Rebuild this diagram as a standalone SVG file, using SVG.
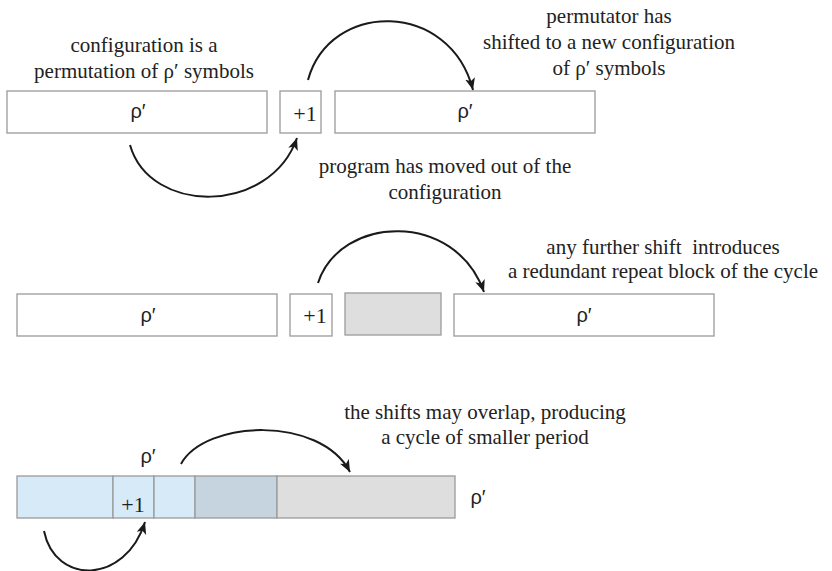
<svg xmlns="http://www.w3.org/2000/svg" width="832" height="571" viewBox="0 0 832 571">
<style>
.box{fill:#fff;stroke:#9a9a9a;stroke-width:1.3}
.lb{fill:#d6eaf8;stroke:#9a9a9a;stroke-width:1.3}
.db{fill:#c6d4df;stroke:#9a9a9a;stroke-width:1.3}
.gr{fill:#dedede;stroke:#9a9a9a;stroke-width:1.3}
.t{font-size:21px;fill:#222;text-anchor:middle}
.r{font-size:20px;fill:#222;text-anchor:middle}
.p{font-size:22px;fill:#222;text-anchor:middle}
.c{fill:none;stroke:#1a1a1a;stroke-width:2;marker-end:url(#ah)}
</style>
<defs>
<marker id="ah" markerUnits="userSpaceOnUse" markerWidth="13" markerHeight="11" refX="12" refY="5" orient="auto">
<path d="M0,0 L12,5 L0,10 L3,5 z" fill="#1a1a1a"/>
</marker>
</defs>
<rect width="832" height="571" fill="#fff"/>
<g font-family="Liberation Serif, Times New Roman, Times, Noto Serif, DejaVu Serif, serif">
<g id="row1">
<g id="r1-box1"><rect class="box" x="7" y="91" width="260" height="42"/><text class="r" font-family="Liberation Sans, Arial, sans-serif" x="138" y="118">ρ′</text></g>
<g id="r1-plus"><rect class="box" x="280" y="91" width="41" height="42"/><text class="p" x="305" y="121">+1</text></g>
<g id="r1-box2"><rect class="box" x="335" y="91" width="260" height="42"/><text class="r" font-family="Liberation Sans, Arial, sans-serif" x="465" y="118">ρ′</text></g>
<g id="r1-label1"><text class="t" x="144" y="52">configuration is a</text><text class="t" x="144" y="78">permutation of ρ′ symbols</text></g>
<g id="r1-label2"><text class="t" x="609" y="23">permutator has</text><text class="t" x="609" y="49">shifted to a new configuration</text><text class="t" x="609" y="75">of ρ′ symbols</text></g>
<g id="r1-label3"><text class="t" x="445" y="173">program has moved out of the</text><text class="t" x="445" y="199">configuration</text></g>
</g>
<g id="row2">
<g id="r2-box1"><rect class="box" x="17" y="294" width="260" height="42"/><text class="r" font-family="Liberation Sans, Arial, sans-serif" x="148" y="322">ρ′</text></g>
<g id="r2-plus"><rect class="box" x="290" y="294" width="42" height="42"/><text class="p" x="315" y="323">+1</text></g>
<g id="r2-grey"><rect class="gr" x="345" y="293" width="96" height="42"/></g>
<g id="r2-box2"><rect class="box" x="454" y="294" width="260" height="42"/><text class="r" font-family="Liberation Sans, Arial, sans-serif" x="584" y="322">ρ′</text></g>
<g id="r2-label"><text class="t" x="663" y="254" xml:space="preserve">any further shift  introduces</text><text class="t" x="663" y="278">a redundant repeat block of the cycle</text></g>
</g>
<g id="row3">
<g id="r3-a"><rect class="lb" x="17" y="476" width="96" height="42"/></g>
<g id="r3-plus"><rect class="lb" x="113" y="476" width="41" height="42"/><text class="p" x="133" y="512">+1</text></g>
<g id="r3-b"><rect class="lb" x="154" y="476" width="41" height="42"/></g>
<g id="r3-c"><rect class="db" x="195" y="476" width="82" height="42"/></g>
<g id="r3-d"><rect class="gr" x="277" y="476" width="178" height="42"/></g>
<g id="r3-rho1"><text class="r" font-family="Liberation Sans, Arial, sans-serif" x="148" y="463">ρ′</text></g>
<g id="r3-rho2"><text class="r" font-family="Liberation Sans, Arial, sans-serif" x="478" y="504">ρ′</text></g>
<g id="r3-label"><text class="t" x="485" y="419">the shifts may overlap, producing</text><text class="t" x="485" y="444">a cycle of smaller period</text></g>
</g>
</g>
<g id="connectors">
<path class="c" d="M308,80 C330,0 450,0 473,90"/>
<path class="c" d="M130,145 C150,215 270,215 297,138"/>
<path class="c" d="M318,283 C340,215 455,210 484,292"/>
<path class="c" d="M181,464 C205,420 320,415 350,472"/>
<path class="c" d="M44,531 C55,585 125,585 145,522"/>
</g>
</svg>
